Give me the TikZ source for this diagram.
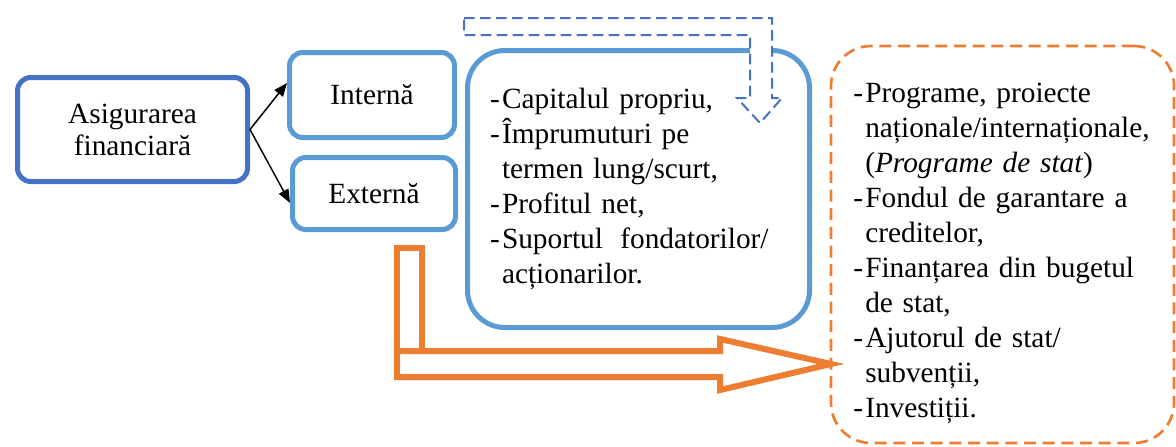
\documentclass[tikz,border=0pt]{standalone}
\usepackage{fontspec}
\setmainfont{Liberation Serif}
\newfontfamily\timesfam{Liberation Serif}
\usetikzlibrary{arrows.meta}
\definecolor{darkblue}{HTML}{4472C4}
\definecolor{lightblue}{HTML}{5B9BD5}
\definecolor{orng}{HTML}{ED7D31}
\newcommand{\li}{\makebox[9pt][l]{-}}
\newcommand{\ct}{\hspace*{9pt}}
\begin{document}
\begin{tikzpicture}[x=0.75pt,y=-0.75pt,
  every node/.style={inner sep=0pt,font=\timesfam\fontsize{22}{26.25}\selectfont},
  box/.style={draw=lightblue,line width=3.75pt,rounded corners=10pt},
  conn/.style={black,line width=1.1pt,-{Triangle[length=10pt,width=8pt]}},
  blockarrow/.style={orng,line width=4.5pt},
  dasharrow/.style={darkblue,line width=1.5pt,dash pattern=on 8pt off 4pt,fill=white}]
  \useasboundingbox (0,0) rectangle (1176,446);
  \node[box,draw=darkblue,minimum width=172.5pt,minimum height=78pt,align=center,
    font=\timesfam\fontsize{22}{24}\selectfont] (asig) at (132.5,129.5) {Asigurarea\\financiară};
  \node[box,minimum width=123.75pt,minimum height=63.75pt] (intern) at (372,95) {Internă};
  \node[box,minimum width=122.25pt,minimum height=54pt] (extern) at (374,193.5) {Externă};
  \draw[conn] (asig.east) -- ([yshift=9pt]intern.west);
  \draw[conn] (asig.east) -- ([yshift=-7pt]extern.west);
  \node[box,rounded corners=28pt,minimum width=256.5pt,minimum height=207.75pt,
    text width=222.75pt,align=left] (proprii) at (638.5,189)
    {\li Capitalul propriu,\\
     \li Împrumuturi pe\\
     \ct termen lung/scurt,\\
     \li Profitul net,\\
     \li Suportul\hspace{13pt}fondatorilor/\\
     \ct acționarilor.};
  \draw[dasharrow] (464,18) -- (772,18) -- (772,98) -- (782,98) -- (760,123)
    -- (737,98) -- (750,98) -- (750,35) -- (464,35) -- cycle;
  \node[draw=orng,line width=2pt,dash pattern=on 9pt off 5pt,rounded corners=30pt,
    minimum width=257.25pt,minimum height=297.75pt] (surse) at (1002.5,244.5) {};
  \node[anchor=north west,text width=230pt,align=left] (sursetext) at (853,83)
    {\li Programe, proiecte\\
     \ct naționale/internaționale,\\
     \ct (\textit{Programe de stat})\\
     \li Fondul de garantare a\\
     \ct creditelor,\\
     \li Finanțarea din bugetul\\
     \ct de stat,\\
     \li Ajutorul de stat/\\
     \ct subvenții,\\
     \li Investiții.};
  \draw[blockarrow] (397,248) rectangle (422,351);
  \draw[blockarrow] (397,351) -- (720,351) -- (720,339) -- (831,364)
    -- (720,390) -- (720,377) -- (397,377) -- cycle;
\end{tikzpicture}
\end{document}
